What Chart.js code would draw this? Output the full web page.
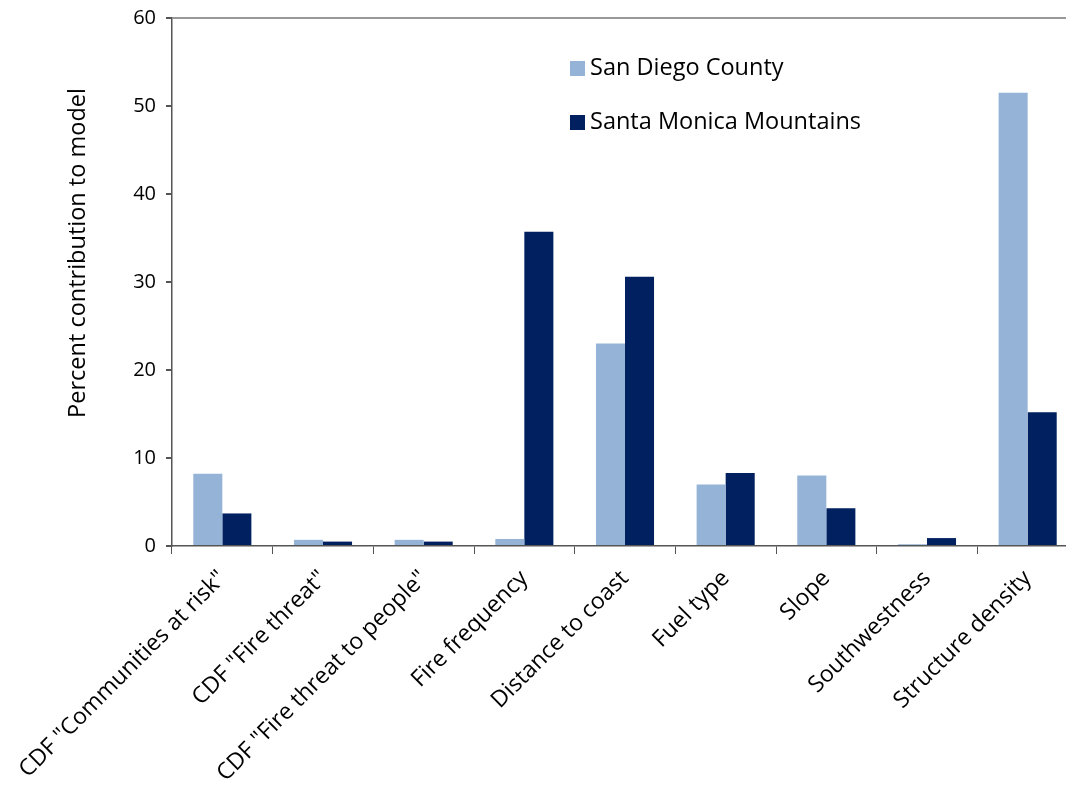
<!DOCTYPE html>
<html lang="en">
<head>
    <meta charset="UTF-8">
    <title>Percent contribution to model</title>
    <script src="https://cdn.jsdelivr.net/npm/chart.js"></script>
    <style>
        html, body { margin: 0; padding: 0; background: #fff; overflow: hidden; }
        #wrap { position: relative; width: 1080px; height: 793px; }
    </style>
</head>
<body>
    <div id="wrap">
        <canvas id="contribChart"></canvas>
    </div>
    <script>
        // data
        const categories = [
            'CDF "Communities at risk"',
            'CDF "Fire threat"',
            'CDF "Fire threat to people"',
            'Fire frequency',
            'Distance to coast',
            'Fuel type',
            'Slope',
            'Southwestness',
            'Structure density'
        ];
        const seriesNames = ['San Diego County', 'Santa Monica Mountains'];
        const sanDiego = [8.2, 0.7, 0.7, 0.8, 23.0, 7.0, 8.0, 0.2, 51.5];
        const santaMonica = [3.7, 0.5, 0.5, 35.7, 30.6, 8.3, 4.3, 0.9, 15.2];
        const yTicks = [0, 10, 20, 30, 40, 50, 60];
        const yTitle = 'Percent contribution to model';

        const colors = ['#95b3d7', '#002060'];
        const fontFamily = '"Open Sans", "Noto Sans", sans-serif';

        // legend inside the plot area + y title sitting a bit above centre
        const extras = {
            id: 'extras',
            afterDraw(chart) {
                const ctx = chart.ctx;
                const area = chart.chartArea;
                ctx.save();
                ctx.font = '23.5px ' + fontFamily;
                ctx.textBaseline = 'middle';
                chart.data.datasets.forEach(function(ds, i) {
                    const x = area.left + 398;
                    const y = area.top + 50 + i * 54;
                    ctx.fillStyle = ds.backgroundColor;
                    ctx.fillRect(x, y - 7, 15, 15);
                    ctx.fillStyle = '#000';
                    ctx.fillText(ds.label, x + 20, y);
                });

                ctx.translate(78, area.top + 235);
                ctx.rotate(-Math.PI / 2);
                ctx.textAlign = 'center';
                ctx.fillStyle = '#000';
                ctx.fillText(yTitle, 0, 0);
                ctx.restore();
            }
        };

        const ctx = document.getElementById('contribChart').getContext('2d');
        const myChart = new Chart(ctx, {
            type: 'bar',
            data: {
                labels: categories,
                datasets: [{
                    label: seriesNames[0],
                    data: sanDiego,
                    backgroundColor: colors[0]
                }, {
                    label: seriesNames[1],
                    data: santaMonica,
                    backgroundColor: colors[1]
                }]
            },
            options: {
                responsive: true,
                maintainAspectRatio: false,
                animation: false,
                categoryPercentage: 0.577,
                barPercentage: 1.0,
                layout: { padding: { left: 64, top: 18, right: 2, bottom: 0 } },
                plugins: {
                    legend: { display: false },
                    tooltip: { enabled: false }
                },
                scales: {
                    x: {
                        offset: true,
                        grid: {
                            offset: true,
                            drawOnChartArea: false,
                            tickLength: 8,
                            tickColor: '#555'
                        },
                        border: { color: '#555', width: 1.5 },
                        ticks: {
                            color: '#000',
                            font: { family: fontFamily, size: 23 },
                            maxRotation: 45,
                            minRotation: 45,
                            padding: 11
                        },
                        afterFit(scale) { scale.height = 247; }
                    },
                    y: {
                        min: 0,
                        max: 60,
                        afterBuildTicks(scale) {
                            scale.ticks = yTicks.map(function(v) { return { value: v }; });
                        },
                        grid: {
                            color: function(c) { return c.tick && c.tick.value === 60 ? '#999' : 'rgba(0,0,0,0)'; },
                            lineWidth: 2,
                            tickColor: '#555',
                            tickLength: 6
                        },
                        border: { color: '#555', width: 1.5 },
                        ticks: {
                            color: '#000',
                            font: { family: fontFamily, size: 20 },
                            padding: 10
                        },
                        afterFit(scale) {
                            scale.width = 108;
                            scale.paddingTop = 0;
                            scale.paddingBottom = 0;
                        }
                    }
                }
            },
            plugins: [extras]
        });
    </script>
</body>
</html>
